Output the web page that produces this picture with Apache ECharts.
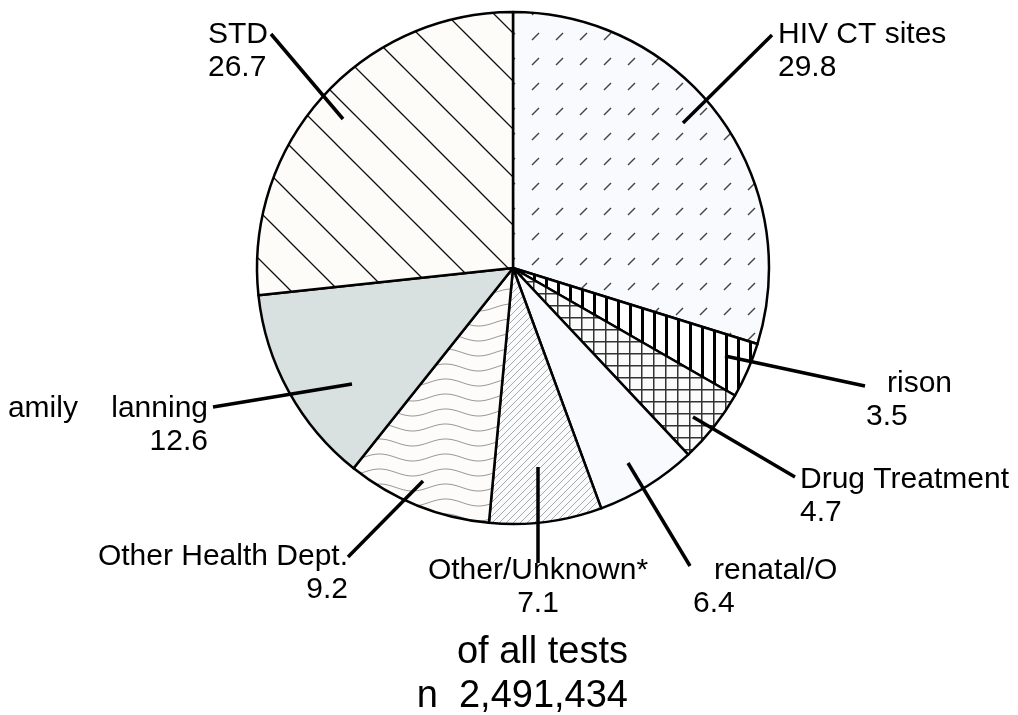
<!DOCTYPE html>
<html>
<head>
<meta charset="utf-8">
<script src="https://cdn.jsdelivr.net/npm/echarts@6/dist/echarts.min.js"></script>
<style>
html, body { margin: 0; padding: 0; background: #fff; }
#chart { width: 1018px; height: 715px; }
</style>
</head>
<body>
<div id="chart"></div>
<script>
// slices, clockwise from 12 o'clock
const categories = ['HIV CT sites', 'Prison', 'Drug Treatment', 'Prenatal/OB', 'Other/Unknown*', 'Other Health Dept.', 'Family Planning', 'STD']
const percents = [29.8, 3.5, 4.7, 6.4, 7.1, 9.2, 12.6, 26.7]
// label text as it is printed (letters are missing in the source)
const labelNames = ['HIV CT sites', 'rison', 'Drug Treatment', 'renatal/O', 'Other/Unknown*', 'Other Health Dept.', 'amily    lanning', 'STD']
const footerLines = ['of all tests', 'n  2,491,434']

const FONT = '"Liberation Sans", Arial, Helvetica, sans-serif'

// label placement (top of first line)
const labelSpots = [
  { x: 778, y: 18, align: 'left' },
  { x: 866, y: 367, align: 'left', indent: true },
  { x: 800, y: 463, align: 'left' },
  { x: 693, y: 554, align: 'left', indent: true },
  { x: 538, y: 554, align: 'center' },
  { x: 348, y: 540, align: 'right' },
  { x: 208, y: 392, align: 'right' },
  { x: 208, y: 18, align: 'left' }
]
// leader lines: inside the slice -> next to the label
const leaderLines = [
  [[683, 123], [772, 35]],
  [[725, 356], [865, 386]],
  [[693, 417], [795, 477]],
  [[628, 463], [690, 566]],
  [[538, 467], [538, 563]],
  [[423, 481], [348, 557]],
  [[352, 384], [213, 407]],
  [[343, 119], [271, 34]]
]

function tile (w, h, bg, draw) {
  const c = document.createElement('canvas')
  c.width = w
  c.height = h
  const ctx = c.getContext('2d')
  ctx.fillStyle = bg
  ctx.fillRect(0, 0, w, h)
  if (draw) draw(ctx, w, h)
  return { image: c, repeat: 'repeat' }
}
function seg (ctx, x1, y1, x2, y2) {
  ctx.beginPath()
  ctx.moveTo(x1, y1)
  ctx.lineTo(x2, y2)
  ctx.stroke()
}

const fills = [
  // HIV CT sites: short dashes
  tile(24, 25, '#f9fafd', ctx => {
    ctx.strokeStyle = '#444'
    ctx.lineWidth = 1.5
    seg(ctx, 4, 15, 11, 8)
  }),
  // Prison: heavy vertical lines
  tile(12, 12, '#ffffff', ctx => {
    ctx.fillStyle = '#000'
    ctx.fillRect(5, 0, 3, 12)
  }),
  // Drug Treatment: crosshatch
  tile(12, 12, '#fbfbfb', ctx => {
    ctx.fillStyle = '#333'
    ctx.fillRect(5, 0, 1.5, 12)
    ctx.fillRect(0, 5, 12, 1.5)
  }),
  // Prenatal
  '#f8fafd',
  // Other/Unknown: fine diagonals
  tile(7, 7, '#fafbfd', ctx => {
    ctx.strokeStyle = '#aaa'
    ctx.lineWidth = 1
    seg(ctx, -1, 8, 8, -1)
    seg(ctx, -1, 1, 1, -1)
    seg(ctx, 6, 8, 8, 6)
  }),
  // Other Health Dept.: waves
  tile(66, 15, '#fdfcfa', ctx => {
    ctx.strokeStyle = '#999'
    ctx.lineWidth = 1
    ctx.beginPath()
    for (let x = 0; x <= 66; x++) {
      const y = 7.5 + 3.5 * Math.sin(2 * Math.PI * x / 66)
      if (x === 0) ctx.moveTo(x, y)
      else ctx.lineTo(x, y)
    }
    ctx.stroke()
  }),
  // Family Planning
  '#d9e1e0',
  // STD: wide back-diagonals
  tile(48, 48, '#fdfcf9', ctx => {
    ctx.strokeStyle = '#111'
    ctx.lineWidth = 1.3
    seg(ctx, -2, -2, 50, 50)
    seg(ctx, 46, -2, 50, 2)
    seg(ctx, -2, 46, 2, 50)
  })
]

const txt = { fontSize: 30, lineHeight: 33, fontFamily: FONT, color: '#000' }

const chart = echarts.init(document.getElementById('chart'))
const option = {
  backgroundColor: '#fff',
  animation: false,
  series: [{
    type: 'pie',
    center: [513, 268],
    radius: 256,
    startAngle: 90,
    clockwise: true,
    silent: true,
    itemStyle: { borderColor: '#000', borderWidth: 2.5 },
    emphasis: { disabled: true },
    labelLine: { show: false },
    label: {
      show: true,
      position: 'outside',
      color: '#000',
      formatter: p => {
        const s = labelSpots[p.dataIndex]
        const key = s.indent ? 'il' : s.align
        return '{' + key + '|' + labelNames[p.dataIndex] + '}\n{' + s.align + '|' + percents[p.dataIndex].toFixed(1) + '}'
      },
      rich: {
        left: Object.assign({ align: 'left' }, txt),
        right: Object.assign({ align: 'right' }, txt),
        center: Object.assign({ align: 'center' }, txt),
        il: Object.assign({ align: 'left', padding: [0, 0, 0, 21] }, txt)
      }
    },
    labelLayout: p => {
      const s = labelSpots[p.dataIndex]
      return { x: s.x, y: s.y, align: s.align, verticalAlign: 'top' }
    },
    data: categories.map((name, i) => ({
      name: name,
      value: percents[i],
      itemStyle: { color: fills[i] }
    }))
  }],
  graphic: leaderLines.map(l => ({
    type: 'line',
    z: 100,
    shape: { x1: l[0][0], y1: l[0][1], x2: l[1][0], y2: l[1][1] },
    style: { stroke: '#000', lineWidth: 3.5 }
  })).concat([{
    type: 'text',
    x: 628,
    y: 631,
    z: 100,
    style: {
      text: footerLines.join('\n'),
      align: 'right',
      verticalAlign: 'top',
      font: '38px ' + FONT,
      lineHeight: 44,
      fill: '#000'
    }
  }])
}
chart.setOption(option)
</script>
</body>
</html>
